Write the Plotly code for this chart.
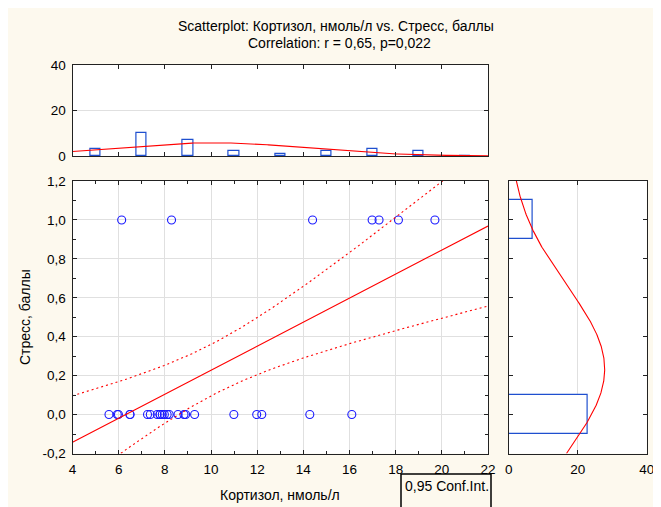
import numpy as np
import plotly.graph_objects as go

# ---------------- data ----------------
cortisol = [5.58, 5.94, 5.99, 6.49, 6.49, 7.25, 7.37, 7.67, 7.79, 7.79, 7.89, 7.98,
            8.10, 8.19, 8.57, 8.83, 8.90, 9.29, 10.99, 11.98, 12.20, 14.28, 16.10,
            6.13, 8.29, 14.40, 16.98, 17.28, 18.12, 19.70]
stress = [0] * 23 + [1] * 7

cort_bin_centers = [5, 7, 9, 11, 13, 15, 17, 19, 21]
cort_counts = [3, 10, 7, 2, 1, 2, 3, 2, 0]
stress_bin_centers = [0, 1]
stress_counts = [23, 7]

x_tickvals = [4, 6, 8, 10, 12, 14, 16, 18, 20, 22]
x_ticktext = ["4", "6", "8", "10", "12", "14", "16", "18", "20", "22"]
y_tickvals = [-0.2, 0.0, 0.2, 0.4, 0.6, 0.8, 1.0, 1.2]
y_ticktext = ["-0,2", "0,0", "0,2", "0,4", "0,6", "0,8", "1,0", "1,2"]
hist_tickvals = [0, 20, 40]
hist_ticktext = ["0", "20", "40"]

title_1 = "Scatterplot: Кортизол, нмоль/л vs. Стресс, баллы"
title_2 = "Correlation: r = 0,65, p=0,022"
x_title = "Кортизол, нмоль/л"
y_title = "Стресс, баллы"
ci_label = "0,95 Conf.Int."
T_CRIT = 2.048  # t(0.975, df=28)

# ---------------- statistics ----------------
xa = np.array(cortisol, dtype=float)
ya = np.array(stress, dtype=float)
n = len(xa)
slope, intercept = np.polyfit(xa, ya, 1)
mx, my = xa.mean(), ya.mean()
sx, sy = xa.std(ddof=1), ya.std(ddof=1)
sxx = ((xa - mx) ** 2).sum()
resid = ya - (intercept + slope * xa)
s_err = np.sqrt((resid ** 2).sum() / (n - 2))

xg = np.linspace(4, 22, 300)
yfit = intercept + slope * xg
se = s_err * np.sqrt(1.0 / n + (xg - mx) ** 2 / sxx)
ci_up = yfit + T_CRIT * se
ci_lo = yfit - T_CRIT * se

def npdf(v, m, s):
    return np.exp(-0.5 * ((v - m) / s) ** 2) / (s * np.sqrt(2 * np.pi))

top_curve = n * 2.0 * npdf(xg, mx, sx)
yg = np.linspace(-0.2, 1.2, 300)
right_curve = n * 1.0 * npdf(yg, my, sy)

# ---------------- figure ----------------
# the page body has an 8px margin: the figure starts at screen pixel (8, 8)
OFF = 8
W, H = 661 - OFF, 507 - OFF
def px(v):  # screen x pixel -> paper fraction
    return (v - OFF) / W
def py(v):  # screen y pixel -> paper fraction
    return 1 - (v - OFF) / H

BLUE = "#1a1aff"
BAR_BLUE = "#1f4fcf"
RED = "#ff0000"
FONT = "Liberation Sans, Arial, sans-serif"
TICK_SIZE = 13.5
TXT_SIZE = 14

fig = go.Figure()

# main scatter
fig.add_trace(go.Scatter(x=cortisol, y=stress, mode="markers",
                         marker=dict(symbol="circle-open", size=8, color=BLUE,
                                     line=dict(width=1.1, color=BLUE)),
                         xaxis="x", yaxis="y", showlegend=False))
fig.add_trace(go.Scatter(x=xg, y=yfit, mode="lines", line=dict(color=RED, width=1.1),
                         xaxis="x", yaxis="y", showlegend=False))
fig.add_trace(go.Scatter(x=xg, y=ci_up, mode="lines",
                         line=dict(color=RED, width=1.1, dash="2px,3px"),
                         xaxis="x", yaxis="y", showlegend=False))
fig.add_trace(go.Scatter(x=xg, y=ci_lo, mode="lines",
                         line=dict(color=RED, width=1.1, dash="2px,3px"),
                         xaxis="x", yaxis="y", showlegend=False))

# top histogram
fig.add_trace(go.Bar(x=cort_bin_centers, y=cort_counts, width=0.45,
                     marker=dict(color="white", line=dict(color=BAR_BLUE, width=1.2)),
                     xaxis="x2", yaxis="y2", showlegend=False))
fig.add_trace(go.Scatter(x=xg, y=top_curve, mode="lines", line=dict(color=RED, width=1.1),
                         xaxis="x2", yaxis="y2", showlegend=False))

# right histogram
fig.add_trace(go.Bar(y=stress_bin_centers, x=stress_counts, width=0.2, orientation="h",
                     marker=dict(color="white", line=dict(color=BAR_BLUE, width=1.2)),
                     xaxis="x3", yaxis="y3", showlegend=False))
fig.add_trace(go.Scatter(x=right_curve, y=yg, mode="lines", line=dict(color=RED, width=1.1),
                         xaxis="x3", yaxis="y3", showlegend=False))

common = dict(showline=True, linecolor="#222222", linewidth=1, mirror="ticks",
              ticks="inside", ticklen=4, tickcolor="#222222", zeroline=False,
              gridcolor="#e0e0e0", gridwidth=1, automargin=False,
              ticklabelstandoff=3,
              tickfont=dict(family=FONT, size=TICK_SIZE, color="black"))

main_xdom = [px(72.5), px(488)]
main_ydom = [py(453.5), py(181)]

fig.update_layout(
    width=W, height=H,
    margin=dict(l=0, r=0, t=0, b=0, autoexpand=False),
    paper_bgcolor="#fdf9ee",
    plot_bgcolor="white",
    showlegend=False,
    bargap=0,
    font=dict(family=FONT, size=TXT_SIZE, color="black"),
    xaxis=dict(domain=main_xdom, range=[4, 22], tickvals=x_tickvals, ticktext=x_ticktext,
               showgrid=True, anchor="y",
               minor=dict(dtick=1, tick0=0, ticks="inside", ticklen=3, tickcolor="#222222",
                          showgrid=False), **common),
    yaxis=dict(domain=main_ydom, range=[-0.2, 1.2], tickvals=y_tickvals, ticktext=y_ticktext,
               showgrid=True, anchor="x",
               minor=dict(dtick=0.1, tick0=0, ticks="inside", ticklen=3, tickcolor="#222222",
                          showgrid=False), **common),
    xaxis2=dict(domain=main_xdom, range=[4, 22], dtick=2, tick0=0, showticklabels=False,
                showgrid=False, anchor="y2", **common),
    yaxis2=dict(domain=[py(156), py(65)], range=[0, 40], tickvals=hist_tickvals,
                ticktext=hist_ticktext, showgrid=True, anchor="x2", **common),
    xaxis3=dict(domain=[px(508.7), px(646.7)], range=[0, 40], tickvals=hist_tickvals,
                ticktext=hist_ticktext, showgrid=True, anchor="y3", **common),
    yaxis3=dict(domain=main_ydom, range=[-0.2, 1.2], dtick=0.2, tick0=0,
                showticklabels=False, showgrid=False, anchor="x3", **common),
)

shapes = [
    dict(type="rect", xref="paper", yref="paper", x0=px(401), x1=px(491), y0=py(520),
         y1=py(474), fillcolor="rgba(0,0,0,0)", line=dict(color="black", width=1.5)),
]
fig.update_layout(shapes=shapes)

ann = [
    dict(text=title_1, x=px(336), y=py(26), xanchor="center", yanchor="middle"),
    dict(text=title_2, x=px(339), y=py(42.5), xanchor="center", yanchor="middle"),
    dict(text=x_title, x=px(280), y=py(495), xanchor="center", yanchor="middle"),
    dict(text=y_title, x=px(25), y=py(317), xanchor="center", yanchor="middle",
         textangle=-90),
    dict(text=ci_label, x=px(403), y=py(486), xanchor="left", yanchor="middle"),
]
for a in ann:
    a.update(xref="paper", yref="paper", showarrow=False,
             font=dict(family=FONT, size=TXT_SIZE, color="black"))
fig.update_layout(annotations=ann)

fig.write_html("out.html")
